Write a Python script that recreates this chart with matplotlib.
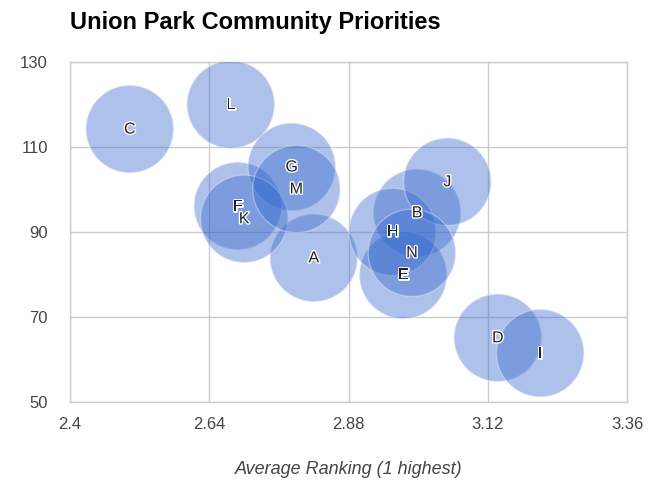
import matplotlib
matplotlib.use("Agg")
import matplotlib.pyplot as plt
import matplotlib.patheffects as pe

plt.rcParams["font.family"] = ["Liberation Sans", "DejaVu Sans"]

# priorities: label, average ranking, score
labels = ["A", "B", "C", "D", "E", "F", "G", "H", "I", "J", "K", "L", "M", "N"]
avg_ranking = [2.820, 2.998, 2.503, 3.137, 2.974, 2.689, 2.782, 2.956, 3.210, 3.050, 2.700, 2.677, 2.790, 2.989]
score = [83.9, 94.5, 114.2, 65.1, 79.9, 96.1, 105.3, 90.0, 61.5, 101.8, 93.1, 120.0, 100.1, 85.1]
bubble_size = [1] * len(labels)

x_ticks = [2.4, 2.64, 2.88, 3.12, 3.36]
y_ticks = [50, 70, 90, 110, 130]

BUBBLE = "#3366CC"
GRID = "#CCCCCC"
TEXT = "#444444"

fig = plt.figure(figsize=(6.48, 4.8), dpi=100, facecolor="white")
ax = fig.add_axes([0.108, 0.1625, 0.860, 0.7085])

ax.scatter(avg_ranking, score, s=[b * 3950 for b in bubble_size],
           color=BUBBLE, alpha=0.4, edgecolors="#E4EAF7", linewidths=1.0, zorder=3)

for lab, xv, yv in zip(labels, avg_ranking, score):
    ax.text(xv, yv, lab, ha="center", va="center", fontsize=11.5, color="#222222", zorder=5,
            path_effects=[pe.withStroke(linewidth=2, foreground="white")])

ax.set_xlim(2.4, 3.36)
ax.set_ylim(50, 130)
ax.set_xticks(x_ticks)
ax.set_xticklabels(["2.4", "2.64", "2.88", "3.12", "3.36"])
ax.set_yticks(y_ticks)
ax.grid(True, color=GRID, linewidth=1.0, zorder=0)
ax.set_axisbelow(True)
for s in ax.spines.values():
    s.set_color(GRID)
    s.set_linewidth(1.0)
ax.tick_params(length=0, colors=TEXT, labelsize=12, pad=11)
ax.tick_params(axis="y", pad=16)

ax.set_xlabel("Average Ranking (1 highest)", fontsize=13, style="italic", color=TEXT, labelpad=21)
fig.text(0.108, 0.954, "Union Park Community Priorities", fontsize=17, fontweight="bold",
         color="black", ha="left", va="center")

fig.savefig("out.png", dpi=100, facecolor="white")
